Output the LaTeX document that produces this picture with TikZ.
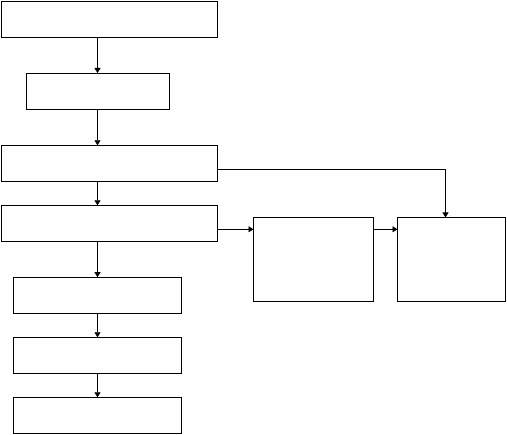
\documentclass[tikz,border=0pt]{standalone}
\usetikzlibrary{arrows.meta}
\tikzset{
  flowbox/.style={draw, line width=0.8pt, outer sep=0pt, inner sep=0pt},
  flowarrow/.style={line width=0.8pt, -{Triangle[length=5pt,width=6pt]}}
}
\begin{document}
\begin{tikzpicture}[x=1pt,y=-1pt,every node/.style={flowbox}]
\useasboundingbox (0,0) rectangle (507,435);
\node[minimum width=216pt,minimum height=35.5pt] (box1) at (109.5,19.25) {};
\node[minimum width=143pt,minimum height=36pt] (box2) at (97.75,91) {};
\node[minimum width=216pt,minimum height=36pt] (box3) at (109.5,163.3) {};
\node[minimum width=216pt,minimum height=36pt] (box4) at (109.5,223.3) {};
\node[minimum width=168pt,minimum height=36pt] (box5) at (97.4,295.2) {};
\node[minimum width=168pt,minimum height=36pt] (box6) at (97.4,355.3) {};
\node[minimum width=168pt,minimum height=36pt] (box7) at (97.4,415.3) {};
\node[minimum width=120pt,minimum height=84pt] (box8) at (313.5,259.5) {};
\node[minimum width=108pt,minimum height=84pt] (box9) at (451.5,259.5) {};
\coordinate (spine) at (97.5,0);
\coordinate (side) at (0,229.3);
\draw[flowarrow] (spine |- box1.south) -- (spine |- box2.north);
\draw[flowarrow] (spine |- box2.south) -- (spine |- box3.north);
\draw[flowarrow] (spine |- box3.south) -- (spine |- box4.north);
\draw[flowarrow] (spine |- box4.south) -- (spine |- box5.north);
\draw[flowarrow] (spine |- box5.south) -- (spine |- box6.north);
\draw[flowarrow] (spine |- box6.south) -- (spine |- box7.north);
\draw[flowarrow] (side -| box4.east) -- (side -| box8.west);
\draw[flowarrow] (side -| box8.east) -- (side -| box9.west);
\draw[flowarrow] ([yshift=-6pt]box3.east) -| ([xshift=-6pt]box9.north);
\end{tikzpicture}
\end{document}
